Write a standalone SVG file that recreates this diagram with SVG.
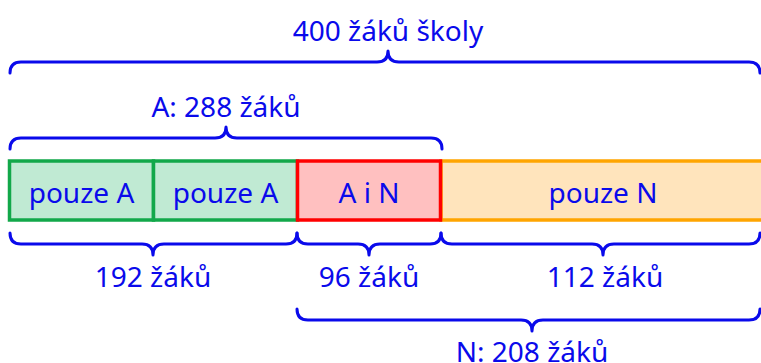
<svg xmlns="http://www.w3.org/2000/svg" width="761" height="363" viewBox="0 0 761 363">
<style>
.t{font-family:"Noto Sans","Open Sans",sans-serif;font-size:28px;fill:#0a0aeb;text-anchor:middle}
.b{fill:none;stroke:#0a0aeb;stroke-width:3;stroke-linecap:round;stroke-linejoin:round}
</style>
<rect width="761" height="363" fill="#fff"/>
<g id="box-a1"><rect x="9.5" y="161" width="144" height="59" fill="#c0ead3" stroke="#12a84a" stroke-width="3.5"/><text class="t" x="81.5" y="203">pouze A</text></g>
<g id="box-a2"><rect x="153.5" y="161" width="144" height="59" fill="#c0ead3" stroke="#12a84a" stroke-width="3.5"/><text class="t" x="225.5" y="203">pouze A</text></g>
<g id="box-n"><rect x="441" y="161" width="340" height="59" fill="#ffe4bc" stroke="#ffa500" stroke-width="3.5"/><text class="t" x="603" y="203">pouze N</text></g>
<g id="box-an"><rect x="297.5" y="161" width="143" height="59" fill="#ffc0c0" stroke="#ff0000" stroke-width="3.5"/><text class="t" x="369" y="203">A i N</text></g>
<g id="connectors">
<path class="b" d="M10,73 Q10,62 21,62 H377 Q388,62 388,51 Q388,62 399,62 H749 Q760,62 760,73"/>
<path class="b" d="M10,149 Q10,138 21,138 H215 Q226,138 226,127 Q226,138 237,138 H431 Q442,138 442,149"/>
<path class="b" d="M10,233 Q10,244 21,244 H142 Q153,244 153,255 Q153,244 164,244 H286 Q297,244 297,233"/>
<path class="b" d="M297,233 Q297,244 308,244 H358 Q369,244 369,255 Q369,244 380,244 H430 Q441,244 441,233"/>
<path class="b" d="M441,233 Q441,244 452,244 H592 Q603,244 603,255 Q603,244 614,244 H749 Q760,244 760,233"/>
<path class="b" d="M297,309 Q297,320 308,320 H521 Q532,320 532,331 Q532,320 543,320 H749 Q760,320 760,309"/>
</g>
<g id="labels">
<text class="t" x="388" y="41">400 žáků školy</text>
<text class="t" x="226" y="117">A: 288 žáků</text>
<text class="t" x="153" y="287">192 žáků</text>
<text class="t" x="369" y="287">96 žáků</text>
<text class="t" x="605" y="287">112 žáků</text>
<text class="t" x="532" y="362">N: 208 žáků</text>
</g>
</svg>
